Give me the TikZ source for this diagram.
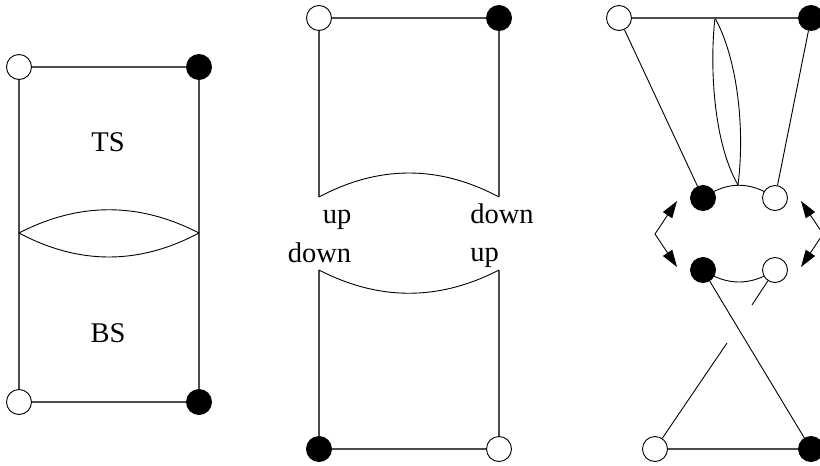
\documentclass[tikz,border=0pt]{standalone}
\usepackage{fontspec}
\setmainfont{Liberation Serif}
\usetikzlibrary{arrows.meta}
\tikzset{
  wdot/.style={circle,draw=black,line width=0.9pt,fill=white,minimum size=25pt,inner sep=0pt},
  bdot/.style={circle,draw=black,line width=0.9pt,fill=black,minimum size=25pt,inner sep=0pt},
  edge/.style={draw=black!70,line width=1.4pt},
  thin/.style={draw=black,line width=0.9pt},
  lbl/.style={anchor=base,inner sep=0pt,font=\fontsize{28.5}{32}\selectfont},
  dbl/.style={thin,{Triangle[length=17pt,width=11pt]}-{Triangle[length=17pt,width=11pt]}}
}
\begin{document}
\begin{tikzpicture}[x=1pt,y=-1pt]
\useasboundingbox (0,0) rectangle (820,466);
% ---------- panel 1 ----------
\node[wdot] (a1) at (19,67) {};
\node[bdot] (a2) at (199,67) {};
\node[wdot] (a3) at (19,402) {};
\node[bdot] (a4) at (199,402) {};
\coordinate (l1) at (19,233);
\coordinate (r1) at (199,233);
\path[edge] (a1) -- (a2);
\path[edge] (a3) -- (a4);
\path[edge] (a1) -- (a3);
\path[edge] (a2) -- (a4);
\draw[thin] (l1) .. controls (79,202) and (139,202) .. (r1);
\draw[thin] (l1) .. controls (79,265) and (139,265) .. (r1);
\node[lbl] (ts) at (108,151) {TS};
\node[lbl] (bs) at (108,342) {BS};
% ---------- panel 2 ----------
\node[wdot] (b1) at (319,18) {};
\node[bdot] (b2) at (499,18) {};
\node[bdot] (b3) at (319,449) {};
\node[wdot] (b4) at (499,449) {};
\coordinate (t1) at (319,197);
\coordinate (t2) at (499,197);
\coordinate (u1) at (319,270);
\coordinate (u2) at (499,270);
\path[edge] (b1) -- (b2);
\path[edge] (b1) -- (t1);
\path[edge] (b2) -- (t2);
\path[edge] (b3) -- (b4);
\path[edge] (b3) -- (u1);
\path[edge] (b4) -- (u2);
\draw[thin] (t1) .. controls (379,165) and (439,165) .. (t2);
\draw[thin] (u1) .. controls (379,301) and (439,301) .. (u2);
\node[lbl] (up1) at (337,223) {up};
\node[lbl] (dn1) at (502,223) {down};
\node[lbl] (dn2) at (319.5,262) {down};
\node[lbl] (up2) at (484.5,261) {up};
% ---------- panel 3 ----------
\coordinate (p) at (715,18);
\coordinate (q) at (738,185);
\draw[thin] (703,198) .. controls (727,181) and (751,181) .. (775,198);
\draw[thin] (703,270) .. controls (727,286) and (751,286) .. (775,270);
\draw[thin] (p) .. controls (710,60) and (712,140) .. (q);
\draw[thin] (p) .. controls (738,60) and (745,130) .. (q);
\node[wdot] (c1) at (619,18) {};
\node[bdot] (c2) at (811,18) {};
\node[bdot] (c3) at (703,198) {};
\node[wdot] (c4) at (775,198) {};
\node[bdot] (c5) at (703,270) {};
\node[wdot] (c6) at (775,270) {};
\node[wdot] (c7) at (655,449) {};
\node[bdot] (c8) at (811,449) {};
\path[edge] (c1) -- (c2);
\path[edge] (c7) -- (c8);
\draw[thin] (c1) -- (c3);
\draw[thin] (c2) -- (c4);
\draw[thin] (c5) -- (c8);
\coordinate (g1) at (752,305);
\coordinate (g2) at (727,343);
\draw[thin] (c6) -- (g1);
\draw[thin] (g2) -- (c7);
\coordinate (la) at (677,201);
\coordinate (lc) at (655,234);
\coordinate (lb) at (677,267);
\coordinate (ra) at (801,201);
\coordinate (rc) at (823,234);
\coordinate (rb) at (801,267);
\draw[dbl] (la) -- (lc) -- (lb);
\draw[dbl] (ra) -- (rc) -- (rb);
\end{tikzpicture}
\end{document}
